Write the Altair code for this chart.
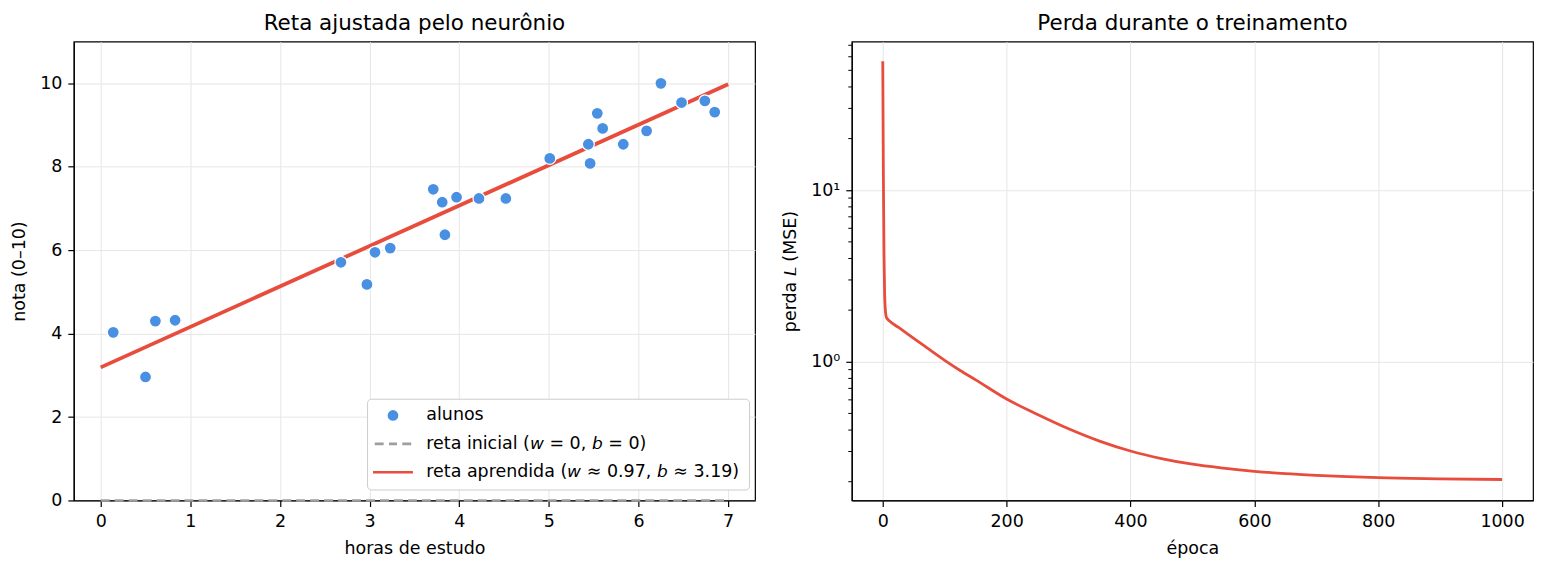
import altair as alt
import pandas as pd

# --- dados dos alunos: horas de estudo x nota -------------------------------
horas = [0.14, 0.50, 0.61, 0.83, 2.68, 2.97, 3.06, 3.23, 3.71, 3.81, 3.84, 3.97,
         4.22, 4.52, 5.01, 5.44, 5.46, 5.54, 5.60, 5.83, 6.09, 6.25, 6.48, 6.74, 6.85]
notas = [4.03, 2.96, 4.30, 4.32, 5.71, 5.18, 5.95, 6.05, 7.46, 7.15, 6.37, 7.27,
         7.24, 7.24, 8.20, 8.54, 8.08, 9.28, 8.92, 8.54, 8.86, 10.00, 9.54, 9.58, 9.31]

# parametros do neuronio (antes e depois do treino)
W_INI, B_INI = 0.0, 0.0
W_FIM, B_FIM = 0.97, 3.19
X_RETA = [0.0, 7.0]

# --- curva de perda ----------------------------------------------------------
epocas = [0, 1, 2, 3, 4, 5, 6, 8, 10, 25, 50, 75, 100, 125, 150, 200, 250, 300,
          350, 400, 450, 500, 550, 600, 650, 700, 750, 800, 900, 1000]
perdas = [56.5, 12.0, 4.2, 2.5, 2.05, 1.88, 1.81, 1.77, 1.74, 1.59, 1.37, 1.18,
          1.02, 0.89, 0.785, 0.607, 0.493, 0.407, 0.345, 0.302, 0.273, 0.253,
          0.240, 0.230, 0.223, 0.218, 0.214, 0.211, 0.208, 0.206]

# ticks do eixo log
log_maiores = [1, 10]
log_menores = [0.2, 0.3, 0.4, 0.5, 0.6, 0.7, 0.8, 0.9,
               2, 3, 4, 5, 6, 7, 8, 9, 20, 30, 40, 50, 60, 70]

AZUL = "#4a90e2"
VERMELHO = "#e74c3c"
CINZA = "#9e9e9e"
FONTE = "DejaVu Sans"

# letras em italico (estilo matematico)
IT_W = "\U0001D638"
IT_B = "\U0001D623"
IT_L = "\U0001D613"

SERIE_ALUNOS = "alunos"
SERIE_INI = f"reta inicial ({IT_W} = {W_INI:g}, {IT_B} = {B_INI:g})"
SERIE_FIM = f"reta aprendida ({IT_W} \u2248 {W_FIM:.2f}, {IT_B} \u2248 {B_FIM:.2f})"
SERIES = [SERIE_ALUNOS, SERIE_INI, SERIE_FIM]

# simbolos da legenda: circulo, traco tracejado e traco continuo
SIMB_TRACEJADO = ("M-3.41,-0.243H-1.74V0.243H-3.41Z "
                  "M-0.75,-0.243H0.75V0.243H-0.75Z "
                  "M1.74,-0.243H3.41V0.243H1.74Z")
SIMB_CONTINUO = "M-3.73,-0.25H3.73V0.25H-3.73Z"

df_alunos = pd.DataFrame({"x": horas, "y": notas, "serie": SERIE_ALUNOS})
df_ini = pd.DataFrame({"x": X_RETA, "y": [W_INI * x + B_INI for x in X_RETA]})
df_fim = pd.DataFrame({"x": X_RETA, "y": [W_FIM * x + B_FIM for x in X_RETA]})
df_perda = pd.DataFrame({"epoca": epocas, "perda": perdas})
df_menores = pd.DataFrame({"perda": log_menores})

PW, PH = 683, 460

# --- painel esquerdo ---------------------------------------------------------
enc_x = alt.X("x:Q", title="horas de estudo",
              scale=alt.Scale(domain=[-0.3, 7.3], nice=False, zero=False),
              axis=alt.Axis(values=list(range(8))))
enc_y = alt.Y("y:Q", title="nota (0\u201310)",
              scale=alt.Scale(domain=[0, 11], nice=False),
              axis=alt.Axis(values=[0, 2, 4, 6, 8, 10]))

legenda = alt.Legend(
    title=None, orient="none", legendX=294, legendY=358, padding=8,
    rowPadding=9.5, symbolSize=115, symbolOffset=9.25, labelOffset=24.65,
    labelFont=FONTE, labelFontSize=17.5, labelColor="black", labelLimit=600,
    strokeColor="#cccccc", fillColor="white", cornerRadius=4,
    symbolStrokeColor="transparent", symbolStrokeWidth=0,
)

reta_ini = alt.Chart(df_ini).mark_line(
    color=CINZA, strokeWidth=2.6, strokeDash=[9, 5]
).encode(x=enc_x, y=enc_y)

reta_fim = alt.Chart(df_fim).mark_line(
    color=VERMELHO, strokeWidth=3.8
).encode(x=enc_x, y=enc_y)

pontos = alt.Chart(df_alunos).mark_point(
    filled=True, size=144, stroke="white", strokeWidth=1.2, opacity=1
).encode(
    x=enc_x, y=enc_y,
    color=alt.Color("serie:N", legend=legenda,
                    scale=alt.Scale(domain=SERIES, range=[AZUL, CINZA, VERMELHO])),
    shape=alt.Shape("serie:N", legend=legenda,
                    scale=alt.Scale(domain=SERIES,
                                    range=["circle", SIMB_TRACEJADO, SIMB_CONTINUO])),
)

esquerda = alt.layer(reta_ini, reta_fim, pontos).properties(
    width=PW, height=PH, title="Reta ajustada pelo neur\u00f4nio"
)

# --- painel direito ----------------------------------------------------------
enc_ep = alt.X("epoca:Q", title="\u00e9poca",
               scale=alt.Scale(domain=[-50, 1050], nice=False, zero=False),
               axis=alt.Axis(values=[0, 200, 400, 600, 800, 1000], format="d"))

enc_perda = alt.Y(
    "perda:Q", title=f"perda {IT_L} (MSE)",
    scale=alt.Scale(type="log", domain=[0.1555, 73.5], nice=False),
    axis=alt.Axis(
        values=log_maiores,
        labelExpr="datum.value == 1 ? '10\u2070' : '10\u00b9'",
    ),
)

curva = alt.Chart(df_perda).mark_line(
    color=VERMELHO, strokeWidth=2.8, interpolate="monotone"
).encode(x=enc_ep, y=enc_perda)

# ticks menores do eixo log, desenhados do lado de fora do eixo
ticks_menores = alt.Chart(df_menores).mark_rule(
    color="black", strokeWidth=1
).encode(y=enc_perda, x=alt.value(0), x2=alt.value(-3.5))

direita = alt.layer(curva, ticks_menores).properties(
    width=PW, height=PH, title="Perda durante o treinamento"
)

grafico = alt.hconcat(esquerda, direita, spacing=25).properties(
    padding={"left": 10, "right": 12, "top": 11, "bottom": 13}
).configure_view(
    stroke="black", strokeWidth=1.2
).configure_axis(
    domainColor="black", domainWidth=1.2, tickColor="black", tickWidth=1.2,
    tickSize=6, labelFont=FONTE, labelFontSize=17.5, labelColor="black",
    labelPadding=6, labelFlush=False, labelOverlap=False,
    titleFont=FONTE, titleFontSize=17.5, titleFontWeight="normal",
    titleColor="black", grid=True, gridColor="#e6e6e6", gridWidth=1,
).configure_axisX(
    titlePadding=9.5
).configure_axisY(
    titlePadding=11
).configure_title(
    font=FONTE, fontSize=21.5, fontWeight="normal", color="black",
    offset=7, baseline="alphabetic", anchor="middle"
)

grafico.save("out.html", embed_options={"renderer": "svg", "actions": False})
